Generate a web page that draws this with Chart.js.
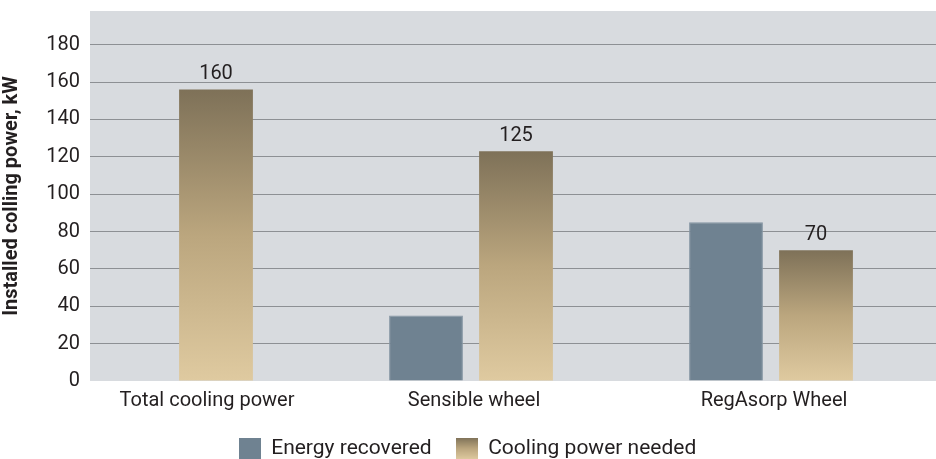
<!DOCTYPE html>
<html>
<head>
<meta charset="utf-8">
<script src="https://cdn.jsdelivr.net/npm/chart.js@4/dist/chart.umd.min.js"></script>
<style>
    body { margin: 0; background: #fff; overflow: hidden; }
    #wrap { width: 936px; height: 459px; overflow: hidden; }
</style>
</head>
<body>
<div id="wrap"><canvas id="chart" width="936" height="469"></canvas></div>
<script>
// data
const categories = ['Total cooling power', 'Sensible wheel', 'RegAsorp Wheel'];
const energyRecovered = [null, 35, 85];
const coolingNeeded = [156, 123, 70];
const coolingLabels = ['160', '125', '70'];
const yTicks = [0, 20, 40, 60, 80, 100, 120, 140, 160, 180];

const FONT = 'Roboto, "DejaVu Sans", sans-serif';
const TEXT = '#231f20';
// the first category label sits a bit right of its bar pair in the original
const labelShift = [0.12, 0.01, 0.01];
// bar ruler also looks at tick spacing, so keep the bar width the same
let minStep = 1;
for (let i = 1; i < labelShift.length; i++) {
    minStep = Math.min(minStep, 1 + labelShift[i] - labelShift[i - 1]);
}
const catPct = 0.6 / minStep;

// gradient for the cooling bars, dark at the top, light at the base
function coolingStops(g) {
    g.addColorStop(0, '#7e7158');
    g.addColorStop(0.5, '#bba67e');
    g.addColorStop(1, '#dfcaa0');
    return g;
}

function coolingFill(ctx) {
    const chart = ctx.chart;
    const y = chart.scales.y;
    if (!y || ctx.type !== 'data' || !ctx.parsed) return '#b8a47c';
    const top = y.getPixelForValue(ctx.parsed.y);
    const base = y.getPixelForValue(0);
    if (!isFinite(top) || !isFinite(base) || top === base) return '#b8a47c';
    return coolingStops(chart.ctx.createLinearGradient(0, top, 0, base));
}

// small canvases used as legend swatches
function swatch(fill) {
    const c = document.createElement('canvas');
    c.width = 22;
    c.height = 22;
    const x = c.getContext('2d');
    x.fillStyle = fill === 'gradient' ? coolingStops(x.createLinearGradient(0, 0, 0, 22)) : fill;
    x.fillRect(0, 0, 22, 22);
    return c;
}
const swatches = [swatch('#6f8291'), swatch('gradient')];

const plotBackground = {
    id: 'plotBackground',
    beforeDraw(chart) {
        const a = chart.chartArea;
        const c = chart.ctx;
        c.save();
        c.fillStyle = '#d8dbdf';
        c.fillRect(a.left, a.top, a.right - a.left, a.bottom - a.top);
        c.restore();
    }
};

const valueLabels = {
    id: 'valueLabels',
    afterDatasetsDraw(chart) {
        const c = chart.ctx;
        const meta = chart.getDatasetMeta(1);
        c.save();
        c.font = '20px ' + FONT;
        c.fillStyle = TEXT;
        c.textAlign = 'center';
        c.textBaseline = 'bottom';
        meta.data.forEach(function (bar, i) {
            c.fillText(coolingLabels[i], bar.x, bar.y - 5);
        });
        c.restore();
    }
};

new Chart(document.getElementById('chart'), {
    type: 'bar',
    data: {
        datasets: [{
            label: 'Energy recovered',
            data: energyRecovered.map((v, i) => ({x: i, y: v})),
            backgroundColor: '#6f8291',
            borderColor: '#8495a3',
            borderWidth: 1,
            categoryPercentage: catPct,
            barPercentage: 0.82
        }, {
            label: 'Cooling power needed',
            data: coolingNeeded.map((v, i) => ({x: i, y: v})),
            backgroundColor: coolingFill,
            borderWidth: 0,
            categoryPercentage: catPct,
            barPercentage: 0.82
        }]
    },
    options: {
        responsive: false,
        animation: false,
        layout: {padding: {top: 11, right: 0, left: 0, bottom: 0}},
        plugins: {
            tooltip: {enabled: false},
            legend: {
                position: 'bottom',
                labels: {
                    usePointStyle: true,
                    boxWidth: 22,
                    boxHeight: 22,
                    padding: 25,
                    color: TEXT,
                    font: {family: FONT, size: 21},
                    generateLabels(chart) {
                        const items = Chart.defaults.plugins.legend.labels.generateLabels(chart);
                        items.forEach(function (it, i) {
                            it.pointStyle = swatches[i];
                        });
                        return items;
                    }
                }
            }
        },
        scales: {
            x: {
                type: 'linear',
                offset: false,
                min: -0.27,
                max: 2.55,
                border: {display: false},
                grid: {display: false},
                afterBuildTicks(scale) {
                    scale.ticks = categories.map((c, i) => ({value: i + labelShift[i]}));
                },
                ticks: {
                    color: TEXT,
                    padding: 0,
                    font: {family: FONT, size: 20},
                    maxRotation: 0,
                    autoSkip: false,
                    callback: (v) => categories[Math.round(v)]
                }
            },
            y: {
                min: 0,
                max: 198,
                border: {display: false},
                afterFit(scale) {
                    scale.width = 90;
                    scale.paddingTop = 0;
                },
                afterBuildTicks(scale) {
                    scale.ticks = yTicks.map(v => ({value: v}));
                },
                grid: {
                    color: (ctx) => ctx.tick && ctx.tick.value === 0 ? 'rgba(0,0,0,0)' : '#8d9094',
                    lineWidth: 1,
                    drawTicks: false
                },
                ticks: {
                    color: TEXT,
                    padding: 10,
                    font: {family: FONT, size: 20}
                },
                title: {
                    display: true,
                    text: 'Installed colling power, kW',
                    color: TEXT,
                    padding: {top: 0, bottom: 4},
                    font: {family: FONT, size: 20, weight: 'bold'}
                }
            }
        }
    },
    plugins: [plotBackground, valueLabels]
});
</script>
</body>
</html>
